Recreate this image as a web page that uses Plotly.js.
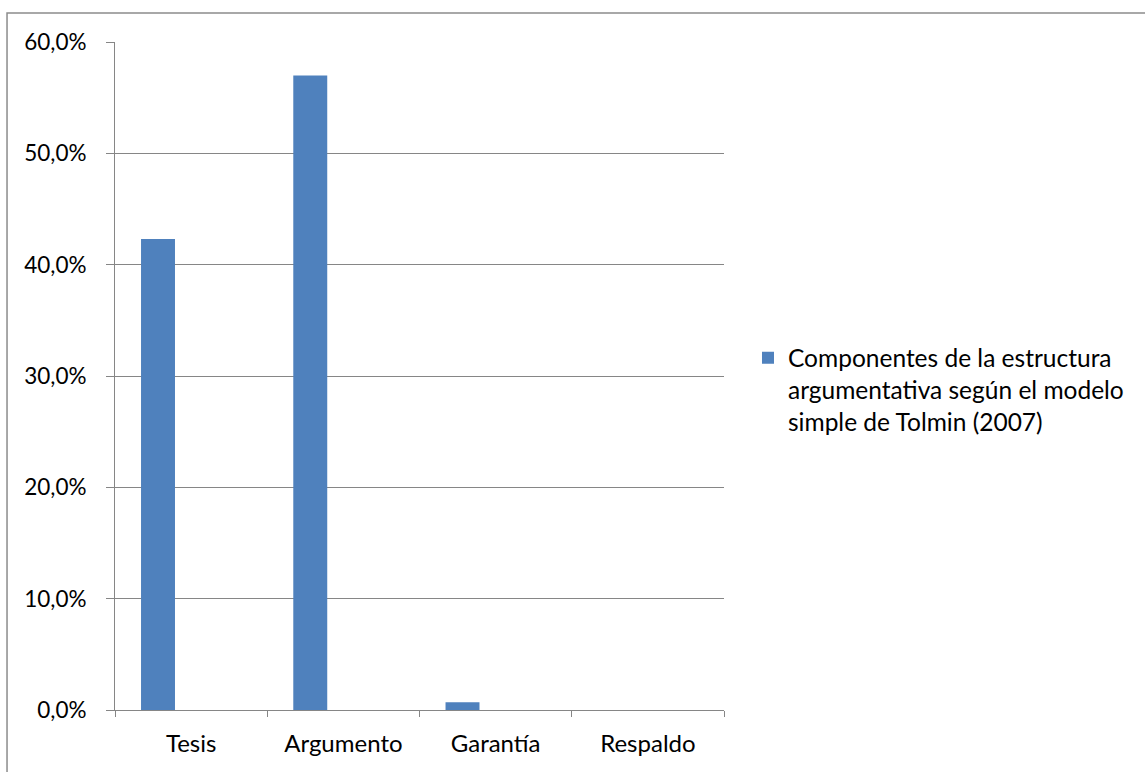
<!DOCTYPE html>
<html>
<head>
<meta charset="utf-8">
<script src="https://cdn.plot.ly/plotly-3.0.1.min.js"></script>
<style>html,body{margin:0;padding:0;background:#fff;}#chart{width:1145px;height:772px;}</style>
</head>
<body>
<div id="chart"></div>
<script>
const categories = ["Tesis", "Argumento", "Garantía", "Respaldo"];
const values = [0.423, 0.570, 0.007, 0.0];
const seriesName = "Componentes de la estructura<br>argumentativa según el modelo<br>simple de Tolmin (2007)";
const yTickVals = [0, 0.1, 0.2, 0.3, 0.4, 0.5, 0.6];

const gray = "#868686";
const font = {family: "Lato, 'Open Sans', sans-serif", size: 24, color: "#000"};

const trace = {
  type: "bar",
  x: categories,
  y: values,
  name: seriesName,
  marker: {color: "#4F81BD"},
  width: 0.223,
  offset: -0.329,
  hoverinfo: "x+y"
};

const layout = {
  width: 1145,
  height: 772,
  margin: {l: 115, r: 421, t: 42, b: 62},
  paper_bgcolor: "#fff",
  plot_bgcolor: "#fff",
  separators: ",.",
  font: font,
  showlegend: true,
  legend: {
    x: 1.0394, xanchor: "left",
    y: 0.561, yanchor: "top",
    valign: "top",
    font: {family: font.family, size: 24.5, color: "#000"},
    itemwidth: 30,
    tracegroupgap: 0
  },
  xaxis: {
    type: "category",
    range: [-0.5, 3.5],
    showline: true, linecolor: gray, linewidth: 1,
    ticks: "outside", tickson: "boundaries", ticklen: 6, tickcolor: gray,
    showgrid: false, zeroline: false,
    ticklabelstandoff: 12,
    tickfont: font
  },
  yaxis: {
    range: [0, 0.6],
    tickvals: yTickVals,
    tickformat: ".1%",
    showline: true, linecolor: gray, linewidth: 1,
    ticks: "outside", ticklen: 8, tickcolor: gray,
    showgrid: true, gridcolor: gray, gridwidth: 1,
    zeroline: false,
    ticklabelstandoff: 15,
    tickfont: {family: font.family, size: 22.5, color: "#000"}
  },
  shapes: [{
    type: "rect", xref: "paper", yref: "paper",
    x0: -0.1773, x1: 1.8, y0: -0.2, y1: 1.0434,
    line: {color: "#8c8c8c", width: 1.5},
    fillcolor: "rgba(0,0,0,0)",
    layer: "above"
  }]
};

Plotly.newPlot("chart", [trace], layout, {displayModeBar: false, staticPlot: true});
</script>
</body>
</html>
